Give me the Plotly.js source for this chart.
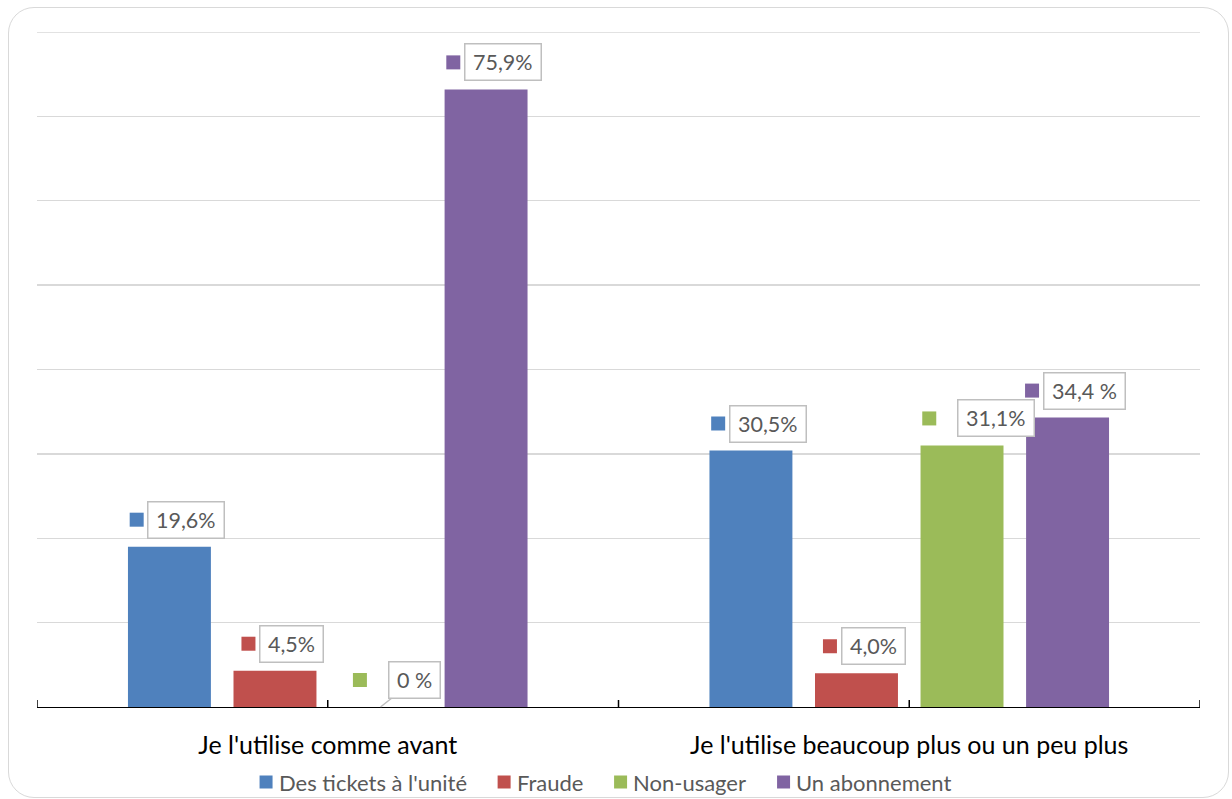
<!DOCTYPE html>
<html>
<head>
<meta charset="utf-8">
<script src="https://cdn.plot.ly/plotly-3.0.1.min.js"></script>
<style>
  html, body { margin: 0; padding: 0; background: #ffffff; }
  #chart { position: absolute; left: 0; top: 0; width: 1232px; height: 799px; }
  #frame { position: absolute; left: 8px; top: 7px; width: 1221px; height: 791px;
           border: 1.5px solid #d9d9d9; border-radius: 26px; box-sizing: border-box;
           pointer-events: none; }
</style>
</head>
<body>
<div id="chart"></div>
<div id="frame"></div>
<script>
// ---- Data ----
const categories = ["Je l'utilise comme avant", "Je l'utilise beaucoup plus ou un peu plus"];
const seriesNames = ["Des tickets à l'unité", "Fraude", "Non-usager", "Un abonnement"];
const ticketsUnite = [19.0, 30.4];
const fraude = [4.3, 4.0];
const nonUsager = [0, 31.0];
const abonnement = [73.2, 34.3];
const labelsTickets = ["19,6%", "30,5%"];
const labelsFraude = ["4,5%", "4,0%"];
const labelsNonUsager = ["0 %", "31,1%"];
const labelsAbonnement = ["75,9%", "34,4 %"];

// ---- Styles ----
const colors = ["#4f81bd", "#c0504d", "#9bbb59", "#8064a2"];
const FONT = "Lato, 'Open Sans', sans-serif";
const LABEL_SIZE = 21.5, CAT_SIZE = 25, LEG_SIZE = 22;
const values = [ticketsUnite, fraude, nonUsager, abonnement];
const labels = [labelsTickets, labelsFraude, labelsNonUsager, labelsAbonnement];
// label box horizontal shift (px) from bar center and distance box-left -> square center
const boxShift = [17, 17, 34, 17];
const squareGap = [11, 11, 28, 11];

const W = 1232, H = 799;
const M = { l: 37, r: 32, t: 32, b: 92 };
const plotW = W - M.l - M.r, plotH = H - M.t - M.b;

const bargap = 0.274, bargroupgap = 0.214;
const slot = (1 - bargap) / seriesNames.length;

const traces = seriesNames.map((name, i) => ({
  type: 'bar', name: name, x: categories, y: values[i],
  marker: { color: colors[i] }, hoverinfo: 'skip', showlegend: false
}));

const cnv = document.createElement('canvas').getContext('2d');
function textWidth(t, size) { cnv.font = size + "px " + FONT; return cnv.measureText(t).width; }

const annotations = [];
const shapes = [];
const BP = 2, BW = 1.5, PADX = 11, INNER_H = 31;
const boxH = INNER_H + 2 * BP + 2 * BW;

// top gridline (range edge)
shapes.push({ type: 'line', xref: 'paper', yref: 'y', x0: 0, x1: 1, y0: 80, y1: 80,
  line: { color: '#d9d9d9', width: 1.3 }, layer: 'below' });

seriesNames.forEach((name, i) => {
  categories.forEach((cat, c) => {
    const xc = c + (i - (seriesNames.length - 1) / 2) * slot;
    const v = values[i][c];
    const txt = labels[i][c];
    const tw = textWidth(txt, LABEL_SIZE);
    const totalW = tw + PADX + 2 * BP + 2 * BW;
    const ann = {
      x: xc, y: v, xref: 'x', yref: 'y', text: txt,
      font: { family: FONT, size: LABEL_SIZE, color: '#595959' },
      bgcolor: '#ffffff', bordercolor: '#bfbfbf', borderwidth: BW, borderpad: BP,
      width: tw + PADX, height: INNER_H, align: 'center', valign: 'middle'
    };
    if (v === 0) {
      Object.assign(ann, { showarrow: true, arrowhead: 0, arrowwidth: 1.5, arrowcolor: '#bfbfbf',
        axref: 'pixel', ayref: 'pixel', ax: boxShift[i], ay: -(8 + boxH / 2), standoff: 0 });
    } else {
      Object.assign(ann, { showarrow: false, xanchor: 'center', yanchor: 'bottom',
        xshift: boxShift[i], yshift: 8 });
    }
    annotations.push(ann);
    const sqC = boxShift[i] - totalW / 2 - squareGap[i];
    shapes.push({
      type: 'rect', xref: 'x', yref: 'y', xsizemode: 'pixel', ysizemode: 'pixel',
      xanchor: xc, yanchor: v, x0: sqC - 7, x1: sqC + 7, y0: 20, y1: 34,
      fillcolor: colors[i], line: { width: 0 }, layer: 'above'
    });
  });
});

// axis tick marks crossing the axis line
[-0.5, 0, 0.5, 1, 1.5].forEach(t => {
  shapes.push({ type: 'line', xref: 'x', yref: 'y', ysizemode: 'pixel', yanchor: 0,
    x0: t, x1: t, y0: -7, y1: 7, line: { color: '#000000', width: 1.5 }, layer: 'above' });
});

// custom legend (square + text), centred under the chart
const SQ = 13, SQ_GAP = 5, ITEM_GAP = 32, LEG_CX = 605, LEG_CY = 782;
const legWidths = seriesNames.map(n => textWidth(n, LEG_SIZE));
const legTotal = legWidths.reduce((a, w) => a + SQ + SQ_GAP + w, 0) + ITEM_GAP * (seriesNames.length - 1);
let lx = LEG_CX - legTotal / 2;
const toPX = px => (px - M.l) / plotW;
const toPY = py => (H - M.b - py) / plotH;
seriesNames.forEach((n, i) => {
  shapes.push({ type: 'rect', xref: 'paper', yref: 'paper', xsizemode: 'pixel', ysizemode: 'pixel',
    xanchor: toPX(lx), yanchor: toPY(LEG_CY), x0: 0, x1: SQ, y0: -SQ / 2, y1: SQ / 2,
    fillcolor: colors[i], line: { width: 0 } });
  annotations.push({ xref: 'paper', yref: 'paper', x: toPX(lx + SQ + SQ_GAP - 1), y: toPY(LEG_CY),
    xanchor: 'left', yanchor: 'middle', showarrow: false, text: n,
    font: { family: FONT, size: LEG_SIZE, color: '#595959' } });
  lx += SQ + SQ_GAP + legWidths[i] + ITEM_GAP;
});

const layout = {
  width: W, height: H,
  margin: M,
  paper_bgcolor: 'rgba(0,0,0,0)', plot_bgcolor: 'rgba(0,0,0,0)',
  barmode: 'group', bargap: bargap, bargroupgap: bargroupgap,
  font: { family: FONT },
  showlegend: false,
  xaxis: {
    type: 'category', range: [-0.5, 1.5], showgrid: false, zeroline: false,
    showline: true, linecolor: '#000000', linewidth: 1.3, ticks: '', automargin: false,
    tickfont: { family: FONT, size: CAT_SIZE, color: '#000000' }, ticklabelstandoff: 16
  },
  yaxis: {
    range: [0, 80], dtick: 10, showticklabels: false, showgrid: true, automargin: false,
    gridcolor: '#d9d9d9', gridwidth: 1.3, zeroline: false, showline: false, ticks: ''
  },
  annotations: annotations, shapes: shapes
};

Plotly.newPlot('chart', traces, layout, { displayModeBar: false, staticPlot: true });
</script>
</body>
</html>
